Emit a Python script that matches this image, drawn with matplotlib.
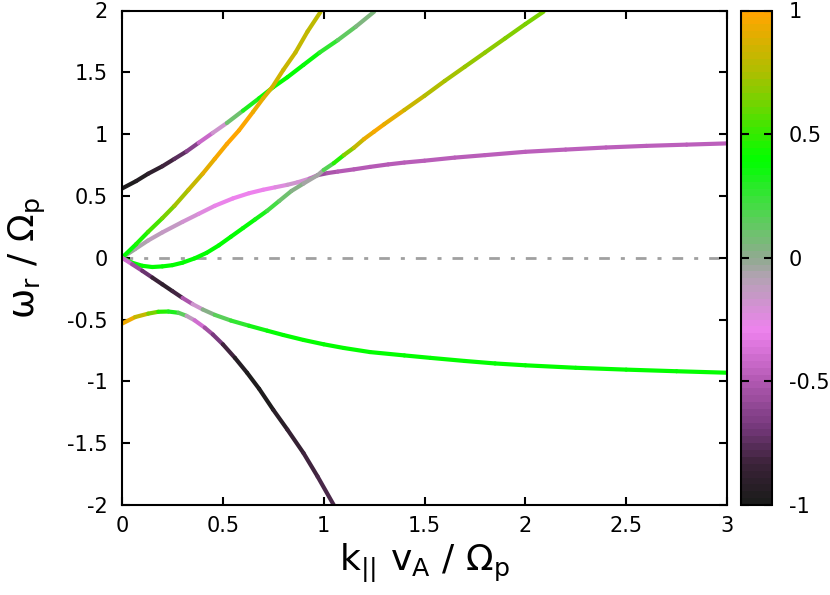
import numpy as np
import matplotlib
matplotlib.use("Agg")
import matplotlib.pyplot as plt
from matplotlib.collections import LineCollection
from matplotlib.colors import LinearSegmentedColormap, ListedColormap, Normalize
from matplotlib.cm import ScalarMappable
from matplotlib.ticker import FormatStrFormatter

# dispersion branches: k_par vA / Omega_p, omega_r / Omega_p, colour value (-1 .. 1)
k_a = [0, 0.07, 0.13, 0.2, 0.26, 0.32, 0.38, 0.45, 0.52, 0.6, 0.68, 0.75, 0.82, 0.9, 0.98, 1.07, 1.16, 1.25]
w_a = [0.56, 0.62, 0.68, 0.74, 0.80, 0.86, 0.93, 1.01, 1.09, 1.19, 1.29, 1.38, 1.46, 1.56, 1.66, 1.76, 1.87, 1.99]
c_a = [-1.0, -0.98, -0.93, -0.87, -0.8, -0.72, -0.55, -0.3, -0.05, 0.25, 0.4, 0.42, 0.4, 0.4, 0.35, 0.2, 0.08, 0.02]

k_b = [0, 0.07, 0.13, 0.2, 0.26, 0.33, 0.4, 0.46, 0.52, 0.58, 0.65, 0.7, 0.745, 0.8, 0.86, 0.92, 0.985]
w_b = [0, 0.11, 0.21, 0.32, 0.42, 0.55, 0.68, 0.80, 0.92, 1.03, 1.18, 1.29, 1.38, 1.52, 1.66, 1.83, 1.99]
c_b = [0.35, 0.42, 0.48, 0.6, 0.7, 0.78, 0.88, 0.95, 1.0, 1.0, 0.97, 0.92, 0.88, 0.85, 0.83, 0.82, 0.8]

k_c = [0, 0.065, 0.13, 0.2, 0.3, 0.38, 0.46, 0.55, 0.63, 0.7, 0.76, 0.82, 0.87, 0.93, 0.97, 1.02, 1.07,
       1.15, 1.23, 1.32, 1.4, 1.5, 1.65, 1.8, 2.0, 2.2, 2.4, 2.6, 2.8, 3.0]
w_c = [0, 0.07, 0.14, 0.205, 0.29, 0.355, 0.42, 0.48, 0.522, 0.55, 0.57, 0.59, 0.61, 0.64, 0.668, 0.685, 0.697,
       0.715, 0.735, 0.755, 0.77, 0.785, 0.81, 0.83, 0.857, 0.875, 0.892, 0.905, 0.915, 0.925]
c_c = [0.0, -0.05, -0.1, -0.12, -0.17, -0.22, -0.27, -0.3, -0.3, -0.3, -0.28, -0.2, -0.15, -0.25, -0.6, -0.55, -0.5,
       -0.5, -0.5, -0.5, -0.48, -0.48, -0.48, -0.48, -0.47, -0.47, -0.47, -0.47, -0.47, -0.47]

k_d = [0, 0.05, 0.1, 0.15, 0.2, 0.25, 0.3, 0.36, 0.42, 0.48, 0.54, 0.6, 0.66, 0.72, 0.78, 0.84, 0.9, 0.97,
       1.0, 1.05, 1.1, 1.15, 1.2, 1.25, 1.3, 1.4, 1.5, 1.6, 1.7, 1.8, 1.9, 2.0, 2.09]
w_d = [0, -0.04, -0.065, -0.075, -0.07, -0.06, -0.04, -0.005, 0.04, 0.10, 0.17, 0.24, 0.31, 0.38, 0.46, 0.54, 0.60, 0.668,
       0.71, 0.765, 0.83, 0.89, 0.96, 1.02, 1.08, 1.195, 1.31, 1.43, 1.545, 1.66, 1.775, 1.89, 1.99]
c_d = [0.3, 0.38, 0.4, 0.4, 0.4, 0.4, 0.4, 0.4, 0.4, 0.4, 0.4, 0.4, 0.38, 0.3, 0.15, 0.05, 0.0, -0.1,
       0.0, 0.35, 0.6, 0.75, 0.9, 0.97, 0.97, 0.88, 0.8, 0.76, 0.72, 0.7, 0.68, 0.66, 0.65]

k_e = [0, 0.05, 0.1, 0.15, 0.2, 0.25, 0.3, 0.35, 0.4, 0.46, 0.54, 0.63, 0.72, 0.8, 0.9, 1.0, 1.1, 1.23,
       1.4, 1.53, 1.7, 1.85, 2.0, 2.25, 2.5, 2.75, 3.0]
w_e = [0, -0.052, -0.105, -0.16, -0.215, -0.27, -0.325, -0.375, -0.418, -0.462, -0.508, -0.55, -0.59, -0.625, -0.665,
       -0.70, -0.73, -0.763, -0.79, -0.81, -0.835, -0.855, -0.87, -0.89, -0.905, -0.918, -0.93]
c_e = [-0.3, -0.5, -0.65, -0.8, -0.9, -0.9, -0.75, -0.3, -0.05, 0.1, 0.22, 0.32, 0.38, 0.4, 0.4, 0.4, 0.4, 0.4,
       0.4, 0.4, 0.4, 0.4, 0.4, 0.4, 0.4, 0.4, 0.4]

k_f = [0, 0.065, 0.13, 0.18, 0.23, 0.28, 0.32, 0.36, 0.41, 0.45, 0.5, 0.56, 0.62, 0.68, 0.75, 0.82, 0.9, 0.97, 1.05]
w_f = [-0.533, -0.48, -0.452, -0.437, -0.435, -0.445, -0.47, -0.506, -0.565, -0.62, -0.70, -0.81, -0.93, -1.06,
       -1.23, -1.39, -1.58, -1.77, -2.0]
c_f = [1.0, 0.9, 0.75, 0.55, 0.4, 0.25, 0.05, -0.3, -0.5, -0.62, -0.75, -0.92, -0.98, -1.0, -0.97, -0.9, -0.85,
       -0.82, -0.8]

branches = [(k_c, w_c, c_c), (k_d, w_d, c_d), (k_a, w_a, c_a), (k_b, w_b, c_b), (k_e, w_e, c_e), (k_f, w_f, c_f)]

plt.rcParams["font.family"] = "DejaVu Sans"
plt.rcParams["mathtext.default"] = "regular"
plt.rcParams["axes.unicode_minus"] = False
plt.rcParams["lines.scale_dashes"] = False

# palette: black -> purple -> violet -> grey -> green -> orange
nodes = [(0.0, "#1c1c1c"), (0.075, "#3a2238"), (0.15, "#74387a"), (0.25, "#b45ab4"),
         (0.35, "#ee82ee"), (0.45, "#b8a0b8"), (0.5, "#90aa90"), (0.6, "#4cd84c"),
         (0.7, "#00ff00"), (0.875, "#a8c000"), (1.0, "#ffa500")]
palette = LinearSegmentedColormap.from_list("pol", nodes)
stripes = ListedColormap(palette(np.linspace(0, 1, 72)))
norm = Normalize(-1, 1)

fig = plt.figure(figsize=(8.3, 5.95), dpi=100)
ax = fig.add_axes([122 / 830, 1 - 505 / 595, 605 / 830, 494.5 / 595])
cax = fig.add_axes([741 / 830, 1 - 505 / 595, 31 / 830, 494.5 / 595])

ax.axhline(0, color="#a0a0a0", lw=2.0, ls=(0, (7.7, 7.9, 2.9, 7.9)), zorder=1)

for k, w, c in branches:
    pts = np.column_stack([k, w])
    segs = np.stack([pts[:-1], pts[1:]], axis=1)
    cv = np.asarray(c)
    lc = LineCollection(segs, cmap=palette, norm=norm, linewidths=3.0, capstyle="round", zorder=2)
    lc.set_array((cv[:-1] + cv[1:]) / 2)
    ax.add_collection(lc)

ax.set_xlim(0, 3)
ax.set_ylim(-2, 2)
ax.set_xticks([0, 0.5, 1, 1.5, 2, 2.5, 3])
ax.set_yticks([-2, -1.5, -1, -0.5, 0, 0.5, 1, 1.5, 2])
ax.xaxis.set_major_formatter(FormatStrFormatter("%g"))
ax.yaxis.set_major_formatter(FormatStrFormatter("%g"))
ax.tick_params(direction="in", length=6, width=1.5, top=True, right=True, labelsize=15)
ax.tick_params(axis="x", pad=8)
ax.tick_params(axis="y", pad=10)
for s in ax.spines.values():
    s.set_linewidth(1.5)

ax.set_xlabel(r"$k_{||}\ v_A\ /\ \Omega_p$", fontsize=26, labelpad=4)
ax.set_ylabel(r"$\omega_r\ /\ \Omega_p$", fontsize=26, labelpad=14)

cb = fig.colorbar(ScalarMappable(norm=norm, cmap=stripes), cax=cax)
cb.set_ticks([-1, -0.5, 0, 0.5, 1])
cb.ax.yaxis.set_major_formatter(FormatStrFormatter("%g"))
cb.ax.tick_params(direction="in", length=6, width=1.5, left=True, right=True, labelsize=15, pad=12)
cb.outline.set_linewidth(1.5)

fig.savefig("out.png", dpi=100)
